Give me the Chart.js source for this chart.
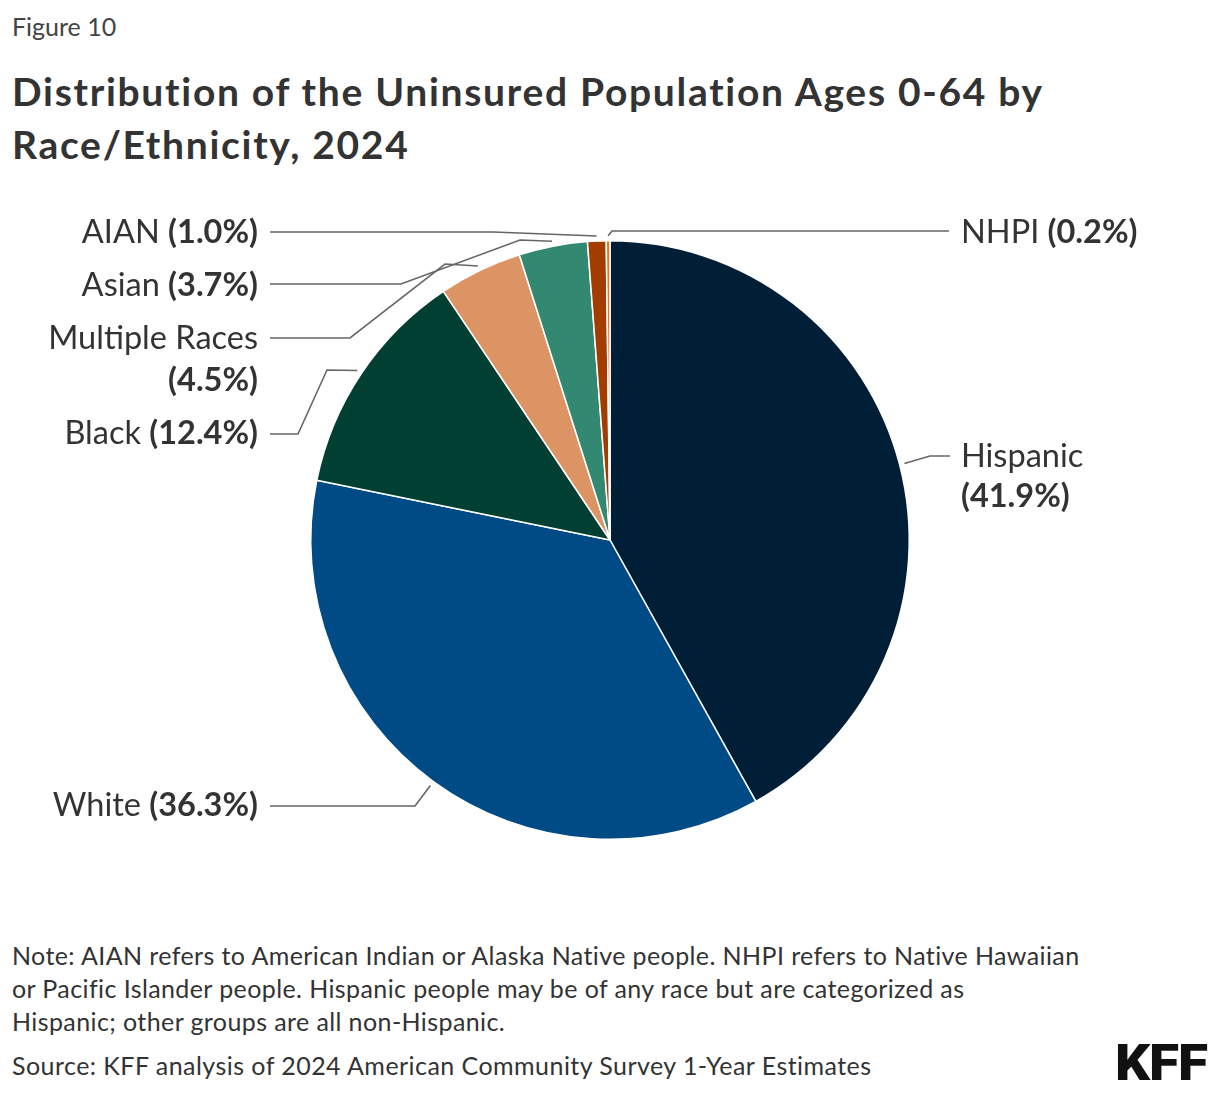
<!DOCTYPE html>
<html>
<head>
<meta charset="utf-8">
<script src="https://cdn.jsdelivr.net/npm/chart.js@4/dist/chart.umd.min.js"></script>
<style>
  html, body { margin:0; padding:0; background:#fff; }
  body { width:1220px; height:1094px; position:relative; font-family:Lato, "Noto Sans", sans-serif; color:#333; overflow:hidden; }
  .fig   { position:absolute; left:12px; top:11px; font-size:25px; color:#444; }
  .title { position:absolute; left:12px; top:65px; font-size:39px; font-weight:700; line-height:53px; color:#333; letter-spacing:1.7px; }
  #wrap  { position:absolute; left:0; top:190px; width:1220px; height:700px; }
  .note  { position:absolute; left:12px; top:939px; font-size:25px; line-height:33px; color:#333; width:1150px; letter-spacing:0.4px; }
  .src   { position:absolute; left:12px; top:1050px; font-size:25px; color:#333; letter-spacing:0.45px; }
  .logo  { position:absolute; left:1115px; top:1034px; font-family:Roboto, sans-serif; font-weight:900; font-size:50px; color:#111; letter-spacing:-1px; transform:scaleX(1.1); transform-origin:left top; }
</style>
</head>
<body>
<div class="fig">Figure 10</div>
<div class="title">Distribution of the Uninsured Population Ages 0-64 by<br>Race/Ethnicity, 2024</div>
<div id="wrap"><canvas id="pie"></canvas></div>
<div class="note">Note: AIAN refers to American Indian or Alaska Native people. NHPI refers to Native Hawaiian<br>or Pacific Islander people. Hispanic people may be of any race but are categorized as<br>Hispanic; other groups are all non-Hispanic.</div>
<div class="src">Source: KFF analysis of 2024 American Community Survey 1-Year Estimates</div>
<div class="logo">KFF</div>

<script>
// data, clockwise from 12 o'clock
const GROUPS  = ["Hispanic", "White", "Black", "Multiple Races", "Asian", "AIAN", "NHPI"];
const SHARES  = [41.9, 36.3, 12.4, 4.5, 3.7, 1.0, 0.2];
const COLORS  = ["#001f36", "#004a86", "#013f33", "#dd9465", "#338872", "#a33c00", "#e07b28"];

// label placement (page px, canvas top is at y=190)
const TOP = 190;
const LABELS = [
  { align:"left",  x:961, rows:[[457,"name"],[497,"pct"]],  path:[[930,456],[950,456]] },
  { align:"right", x:258, rows:[[806,"both"]],              path:[[415,806],[270,806]] },
  { align:"right", x:258, rows:[[434,"both"]],              path:[[327,370],[298,434],[270,434]] },
  { align:"right", x:258, rows:[[339,"name"],[381,"pct"]],  path:[[445,264],[350,338],[270,338]] },
  { align:"right", x:258, rows:[[286,"both"]],              path:[[520,240],[401,284],[270,284]] },
  { align:"right", x:258, rows:[[233,"both"]],              path:[[493,232],[270,232]] },
  { align:"left",  x:961, rows:[[233,"both"]],              path:[[612,231],[949,231]] },
];

const REG  = "32.5px Lato, 'Noto Sans', sans-serif";
const BOLD = "bold 32.5px Lato, 'Noto Sans', sans-serif";

const leaderLabels = {
  id: "leaderLabels",
  afterDatasetsDraw(chart) {
    const ctx = chart.ctx;
    const arcs = chart.getDatasetMeta(0).data;
    ctx.save();
    arcs.forEach((arc, i) => {
      const lay = LABELS[i];
      const p = arc.getProps(["x","y","startAngle","endAngle","outerRadius"], true);
      const mid = (p.startAngle + p.endAngle) / 2;
      const ax = p.x + Math.cos(mid) * (p.outerRadius + 5);
      const ay = p.y + Math.sin(mid) * (p.outerRadius + 5);

      ctx.strokeStyle = "#666";
      ctx.lineWidth = 1.6;
      ctx.beginPath();
      ctx.moveTo(ax, ay);
      lay.path.forEach(([x, y]) => ctx.lineTo(x, y - TOP));
      ctx.stroke();

      const name = GROUPS[i];
      const pct  = "(" + SHARES[i].toFixed(1) + "%)";
      ctx.fillStyle = "#333";
      ctx.textBaseline = "middle";
      lay.rows.forEach(([y, kind]) => {
        const yy = y - TOP;
        let parts;
        if (kind === "name") parts = [[name, REG]];
        else if (kind === "pct") parts = [[pct, BOLD]];
        else parts = [[name + " ", REG], [pct, BOLD]];
        let total = 0;
        parts.forEach(([t, f]) => { ctx.font = f; total += ctx.measureText(t).width; });
        let x = lay.align === "right" ? lay.x - total : lay.x;
        ctx.textAlign = "left";
        parts.forEach(([t, f]) => { ctx.font = f; ctx.fillText(t, x, yy); x += ctx.measureText(t).width; });
      });
    });
    ctx.restore();
  }
};

new Chart(document.getElementById("pie"), {
  type: "pie",
  data: {
    labels: GROUPS,
    datasets: [{
      data: SHARES,
      backgroundColor: COLORS,
      borderColor: "#fff",
      borderWidth: 1.5,
    }],
  },
  options: {
    responsive: true, maintainAspectRatio: false,
    animation: false,
    layout: { padding: { top: 50, bottom: 50 } },
    plugins: { legend: { display: false }, tooltip: { enabled: false } },
  },
  plugins: [leaderLabels],
});
</script>
</body>
</html>
